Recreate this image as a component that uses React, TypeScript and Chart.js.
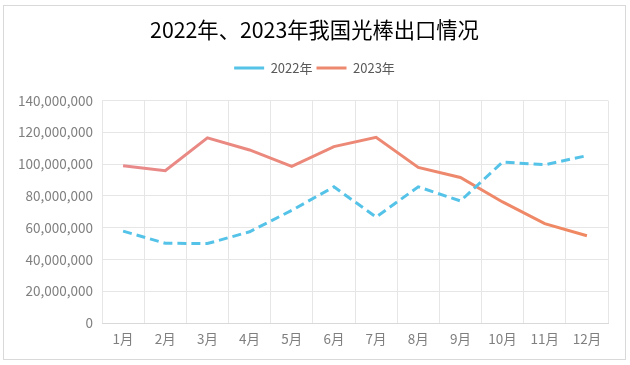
import React, { useEffect, useRef } from "react";
import { Chart, registerables } from "chart.js";

Chart.register(...registerables);

const months = ["1月", "2月", "3月", "4月", "5月", "6月", "7月", "8月", "9月", "10月", "11月", "12月"];
const series2022 = [57800000, 50200000, 50000000, 57400000, 70900000, 85700000, 66700000, 85700000, 76800000, 101300000, 99600000, 105300000];
const series2023 = [99000000, 95800000, 116500000, 108900000, 98600000, 111000000, 116900000, 97900000, 91600000, 76200000, 62500000, 54900000];
const titleText = "2022年、2023年我国光棒出口情况";
const FONT = "'Noto Sans CJK SC', 'Noto Sans', sans-serif";

export default function App() {
  const ref = useRef<HTMLCanvasElement | null>(null);
  useEffect(() => {
    if (!ref.current) return;
    const orangeGrad = (ctx: any) => {
      const chart = ctx.chart;
      const area = chart.chartArea;
      if (!area) return "#EC896F";
      const g = chart.ctx.createLinearGradient(area.left, 0, area.right, 0);
      g.addColorStop(0, "#E8898C");
      g.addColorStop(1, "#F0885F");
      return g;
    };
    const chart = new Chart(ref.current, {
      type: "line",
      data: {
        labels: months,
        datasets: [
          {
            label: "2022年",
            data: series2022,
            borderColor: "#55C3E8",
            backgroundColor: "#55C3E8",
            borderWidth: 3,
            borderDash: [9, 5],
            pointRadius: 0,
            tension: 0,
            fill: false,
          },
          {
            label: "2023年",
            data: series2023,
            borderColor: orangeGrad,
            backgroundColor: "#EC896F",
            borderWidth: 3,
            pointRadius: 0,
            tension: 0,
            fill: false,
          },
        ],
      },
      options: {
        animation: false,
        responsive: false,
        maintainAspectRatio: false,
        layout: { padding: { left: 0, right: 0, top: 11, bottom: 0 } },
        plugins: {
          title: {
            display: true,
            text: titleText,
            color: "#000000",
            font: { family: FONT, size: 21.3, weight: "normal" },
            padding: { top: 0, bottom: 15 },
          },
          legend: {
            display: true,
            labels: {
              usePointStyle: true,
              pointStyle: "line",
              pointStyleWidth: 30,
              boxHeight: 8,
              padding: 4,
              color: "#595959",
              font: { family: FONT, size: 13 },
              generateLabels: (c: any) => {
                const items = Chart.defaults.plugins.legend.labels.generateLabels(c);
                items[1].strokeStyle = "#EC896F";
                return items;
              },
            },
          },
          tooltip: { enabled: false },
        },
        scales: {
          x: {
            offset: true,
            grid: { color: "#E6E6E6", offset: true, drawTicks: false },
            border: { color: "#D9D9D9" },
            ticks: { color: "#7F7F7F", font: { family: FONT, size: 13.5 }, padding: 8, maxRotation: 0 },
            afterFit: (s: any) => { s.height = 36; },
          },
          xTop: {
            type: "category",
            position: "top",
            display: true,
            grid: { display: false, drawTicks: false },
            border: { display: false },
            ticks: { display: false },
            afterFit: (s: any) => { s.height = 16; },
          },
          y: {
            min: 0,
            max: 140000000,
            grid: { color: "#E6E6E6", drawTicks: false },
            border: { display: false },
            ticks: {
              stepSize: 20000000,
              color: "#7F7F7F",
              font: { family: FONT, size: 13.5 },
              padding: 9,
              callback: (v: any) => Number(v).toLocaleString("en-US"),
            },
            afterFit: (s: any) => { s.width = 98; },
          },
          yRight: {
            type: "linear",
            position: "right",
            display: true,
            grid: { display: false, drawTicks: false },
            border: { display: false },
            ticks: { display: false },
            afterFit: (s: any) => { s.width = 17; },
          },
        },
      },
    });
    return () => chart.destroy();
  }, []);
  return (
    <div style={{ position: "absolute", left: 0, top: 0, width: 630, height: 365, background: "#fff" }}>
      <div style={{ position: "absolute", left: 3, top: 5, width: 621, height: 353, border: "1px solid #D9D9D9", background: "#fff" }}>
        <canvas ref={ref} width={621} height={353} style={{ display: "block" }} />
      </div>
    </div>
  );
}
